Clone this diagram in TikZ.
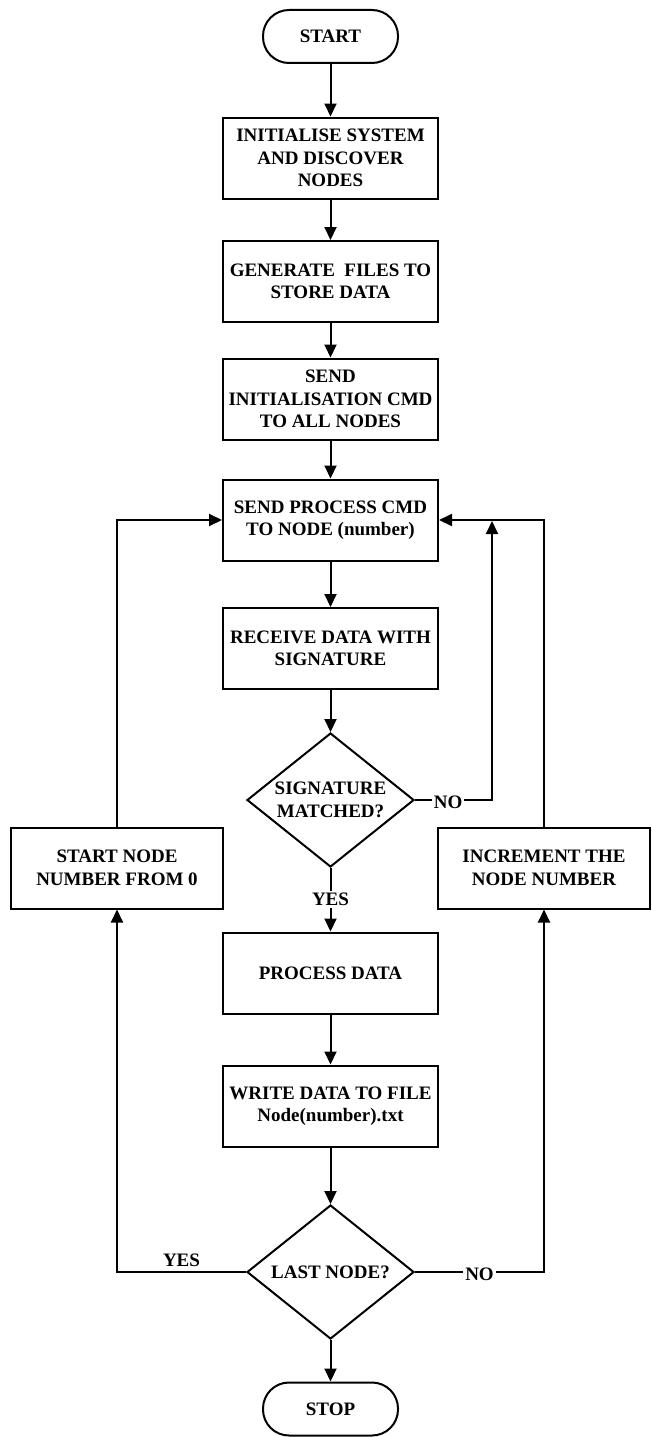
\documentclass[tikz,border=0pt]{standalone}
\usepackage{fontspec}
\setmainfont{Liberation Serif}
\usetikzlibrary{arrows.meta,shapes.geometric}
\begin{document}
\begin{tikzpicture}[x=1pt,y=-1pt,
  every node/.style={font=\fontsize{19}{22.5}\selectfont\bfseries},
  box/.style={draw, line width=2pt, minimum width=215pt, minimum height=81pt, align=center, inner sep=0pt},
  sidebox/.style={box, minimum width=212pt},
  term/.style={draw, line width=2pt, minimum width=135pt, minimum height=53pt, rounded corners=26pt, inner sep=0pt},
  decision/.style={draw, diamond, line width=2pt, minimum width=167pt, minimum height=134pt, inner sep=0pt},
  arr/.style={line width=2pt, -{Triangle[length=13pt,width=12pt]}},
  lbl/.style={fill=white, inner sep=2pt}]
\useasboundingbox (0,0) rectangle (651,1437);
\node[term] (start) at (330.5,36.5) {START};
\node[box] (b1) at (330.5,158) {INITIALISE SYSTEM\\AND DISCOVER\\NODES};
\node[box] (b2) at (330.5,281.5) {GENERATE~ FILES TO\\STORE DATA};
\node[box] (b3) at (330.5,399) {SEND\\INITIALISATION CMD\\TO ALL NODES};
\node[box] (b4) at (330.5,520) {SEND PROCESS CMD\\TO NODE (number)};
\node[box] (b5) at (330.5,648.5) {RECEIVE DATA WITH\\SIGNATURE};
\node[decision, label={[align=center]center:{SIGNATURE\\MATCHED?}}] (d1) at (330.5,800) {};
\node[sidebox] (lb) at (117,868) {START NODE\\NUMBER FROM 0};
\node[sidebox] (rb) at (544,868) {INCREMENT THE\\NODE NUMBER};
\node[box] (b6) at (330.5,973) {PROCESS DATA};
\node[box] (b7) at (330.5,1106) {WRITE DATA TO FILE\\Node(number).txt};
\node[decision, label={[align=center]center:{LAST NODE?}}] (d2) at (330.5,1272) {};
\node[term] (stop) at (330.5,1409) {STOP};
\coordinate (nobend) at (492,800);
\coordinate (nojoin) at (492,521);
\draw[arr] (start) -- (b1);
\draw[arr] (b1) -- (b2);
\draw[arr] (b2) -- (b3);
\draw[arr] (b3) -- (b4);
\draw[arr] (b4) -- (b5);
\draw[arr] (b5) -- (d1);
\draw[arr] (d1) -- node[lbl] {YES} (b6);
\draw[arr] (d1.east) -- node[lbl, pos=0.43, yshift=-2pt] {NO} (nobend) -- (nojoin);
\draw[arr] (rb.north) |- (b4.east);
\draw[arr] (lb.north) |- (b4.west);
\draw[arr] (b6) -- (b7);
\draw[arr] (b7) -- (d2);
\draw[arr] (d2) -- (stop);
\draw[arr] (d2.west) -| node[pos=0.25, above=1pt] {YES} (lb.south);
\draw[arr] (d2.east) -| node[pos=0.25, lbl, yshift=-2pt] {NO} (rb.south);
\end{tikzpicture}
\end{document}
